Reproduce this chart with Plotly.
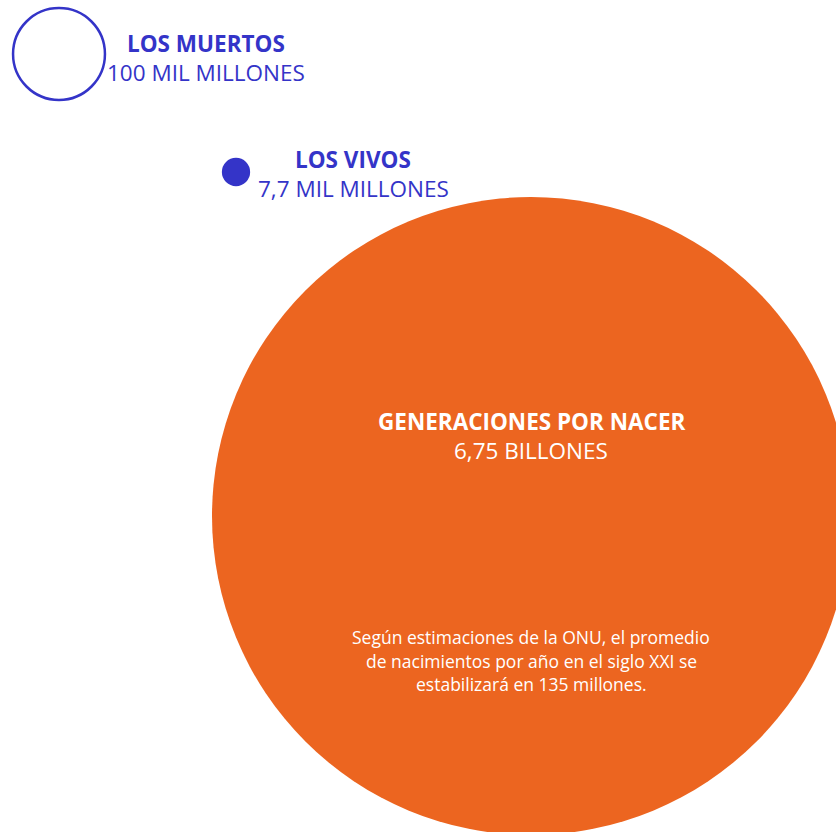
import plotly.graph_objects as go

# Data (values in miles de millones of people)
groups = ["LOS MUERTOS", "LOS VIVOS", "GENERACIONES POR NACER"]
values = [100, 7.7, 6750]
value_labels = ["100 MIL MILLONES", "7,7 MIL MILLONES", "6,75 BILLONES"]
note_lines = ["Según estimaciones de la ONU, el promedio",
              "de nacimientos por año en el siglo XXI se",
              "estabilizará en 135 millones."]

# Layout / style
W, H = 836, 832
BLUE = "#3434C8"
ORANGE = "#EC6520"
FONT = "Open Sans"
centers = [(59, 54), (236, 172), (531, 516)]
label_pos = [(206, 43), (353, 159), (531, 421)]
LINE_GAP = 29
note_x, note_y0, note_gap = 531, 637, 23.5
EXP = 0.46
K = 319 / (values[2] ** EXP)
radii = [K * v ** EXP for v in values]

fig = go.Figure()
shapes = []
styles = [
    dict(fillcolor="rgba(0,0,0,0)", line=dict(color=BLUE, width=2.5)),
    dict(fillcolor=BLUE, line=dict(width=0)),
    dict(fillcolor=ORANGE, line=dict(width=0)),
]
for (cx, cy), r, st in zip(centers, radii, styles):
    shapes.append(dict(type="circle", xref="x", yref="y",
                       x0=cx - r, x1=cx + r, y0=cy - r, y1=cy + r, layer="below", **st))

annotations = []
colors = [BLUE, BLUE, "white"]
for (lx, ly), g, vl, c in zip(label_pos, groups, value_labels, colors):
    annotations.append(dict(x=lx, y=ly, xref="x", yref="y", showarrow=False,
                            text=g, yanchor="middle",
                            font=dict(family=FONT, size=22.5, color=c, weight=700)))
    annotations.append(dict(x=lx, y=ly + LINE_GAP, xref="x", yref="y", showarrow=False,
                            text=vl, yanchor="middle",
                            font=dict(family=FONT, size=22.5, color=c)))
for i, line in enumerate(note_lines):
    annotations.append(dict(x=note_x, y=note_y0 + i * note_gap, xref="x", yref="y",
                            showarrow=False, text=line, yanchor="middle",
                            font=dict(family=FONT, size=17.5, color="white")))

fig.add_trace(go.Scatter(x=[0, W], y=[0, H], mode="markers",
                         marker=dict(opacity=0), hoverinfo="skip", showlegend=False))
fig.update_layout(
    width=W, height=H, margin=dict(l=0, r=0, t=0, b=0),
    paper_bgcolor="white", plot_bgcolor="white",
    shapes=shapes, annotations=annotations,
    xaxis=dict(range=[0, W], visible=False, fixedrange=True),
    yaxis=dict(range=[H, 0], visible=False, fixedrange=True),
    showlegend=False,
)
fig.write_html("out.html", config=dict(displayModeBar=False),
               post_script="document.body.style.margin='0px';document.body.style.overflow='hidden';")
